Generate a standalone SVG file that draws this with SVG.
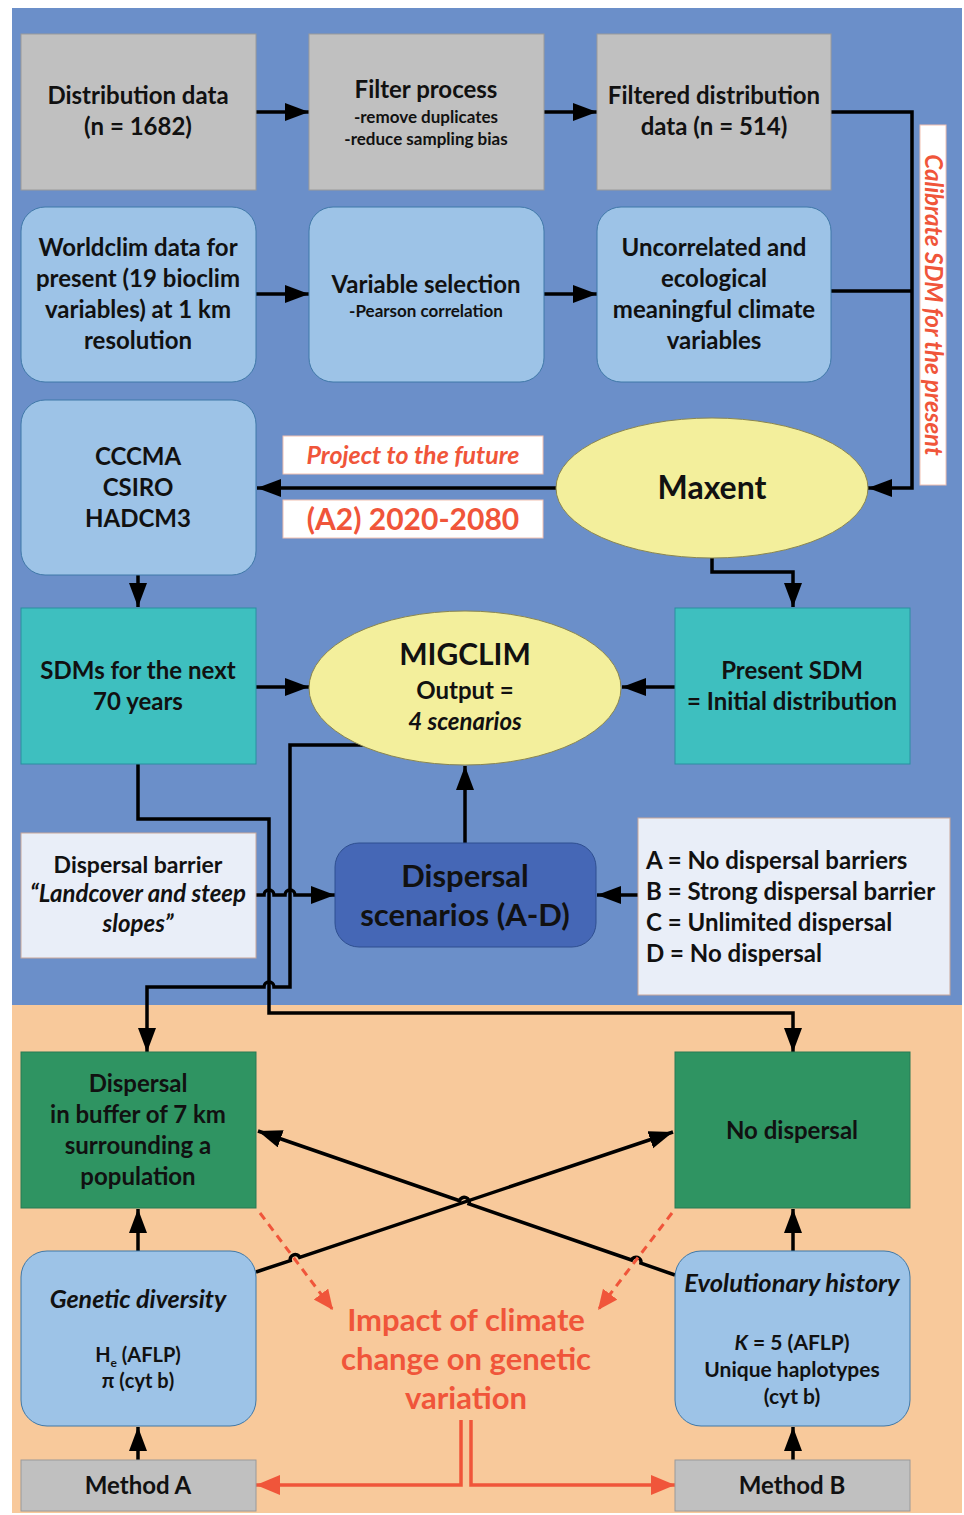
<svg xmlns="http://www.w3.org/2000/svg" width="964" height="1515" viewBox="0 0 964 1515">
  <style>
    text { font-family: Lato, "Open Sans", "Liberation Sans", sans-serif; font-weight: bold; fill: #111; text-anchor: middle; }
    .t22 { font-size: 23px; }
    .t24 { font-size: 24px; }
    .sm { font-size: 17px; }
    .it { font-style: italic; }
    .red { fill: #f0553a; }
    .gray { fill: #c0c0c0; stroke: #9a9a9a; stroke-width: 1; }
    .lblue { fill: #9dc3e7; stroke: #3f78a8; stroke-width: 1; }
    .teal { fill: #3ebfbf; stroke: #2a8fa0; stroke-width: 1; }
    .green { fill: #2f9462; stroke: #287a55; stroke-width: 1; }
    .pale { fill: #e9eef8; stroke: #c9a79a; stroke-width: 1; }
    .dblue { fill: #4567b6; stroke: #2f4f90; stroke-width: 1; }
    .yel { fill: #f3ef9c; stroke: #8a8650; stroke-width: 1; }
    .wlab { fill: #ffffff; stroke: #f2c0b0; stroke-width: 1; }
    .conn { fill: none; stroke: #000; stroke-width: 3.5; }
    .rconn { fill: none; stroke: #f0553a; stroke-width: 3.5; }
    .rdash { fill: none; stroke: #f0553a; stroke-width: 3; stroke-dasharray: 8 6; }
  </style>
  <defs>
    <marker id="ah" markerUnits="userSpaceOnUse" markerWidth="26" markerHeight="20" refX="24" refY="9" orient="auto">
      <path d="M0,0 L24,9 L0,18 z" fill="#000"/>
    </marker>
    <marker id="ahr" markerUnits="userSpaceOnUse" markerWidth="26" markerHeight="22" refX="24" refY="10" orient="auto">
      <path d="M0,0 L24,10 L0,20 z" fill="#f0553a"/>
    </marker>
    <marker id="ahrs" markerUnits="userSpaceOnUse" markerWidth="24" markerHeight="20" refX="20" refY="9" orient="auto">
      <path d="M0,0 L20,9 L0,18 z" fill="#f0553a"/>
    </marker>
  </defs>

  <!-- background panels -->
  <rect x="0" y="0" width="964" height="1515" fill="#ffffff"/>
  <rect x="12" y="8" width="950" height="997" fill="#6b8fc9"/>
  <rect x="12" y="1005" width="950" height="508" fill="#f8c99b"/>

  <!-- connectors -->
  <g id="connectors">
    <path class="conn" d="M256,112 H309" marker-end="url(#ah)"/>
    <path class="conn" d="M544,112 H597" marker-end="url(#ah)"/>
    <path class="conn" d="M831,112 H912 V488 H868" marker-end="url(#ah)"/>
    <path class="conn" d="M831,291 H912"/>
    <path class="conn" d="M256,294 H309" marker-end="url(#ah)"/>
    <path class="conn" d="M544,294 H597" marker-end="url(#ah)"/>
    <path class="conn" d="M556,488 H257" marker-end="url(#ah)"/>
    <path class="conn" d="M138,575 V607" marker-end="url(#ah)"/>
    <path class="conn" d="M712,558 V572 H793 V607" marker-end="url(#ah)"/>
    <path class="conn" d="M256,687 H309" marker-end="url(#ah)"/>
    <path class="conn" d="M675,687 H622" marker-end="url(#ah)"/>
    <path class="conn" d="M465,843 V766" marker-end="url(#ah)"/>
    <path class="conn" d="M638,895 H597" marker-end="url(#ah)"/>
    <path class="conn" d="M256,895 H264 A5,5 0 0 1 274,895 H285 A5,5 0 0 1 295,895 H335" marker-end="url(#ah)"/>
    <path class="conn" d="M376,745 H290 V987 H274 A5,5 0 0 0 264,987 H147 V1052" marker-end="url(#ah)"/>
    <path class="conn" d="M138,764 V819 H269 V1013 H793 V1052" marker-end="url(#ah)"/>
    <path class="conn" d="M256,1272 L290.3,1260.6 A5,5 0 0 1 299.7,1257.4 L673,1132" marker-end="url(#ah)"/>
    <path class="conn" d="M675,1275 L640.9,1263.2 A5,5 0 0 0 631.5,1260 L469,1204 A5,5 0 0 0 459.5,1200.7 L258,1131" marker-end="url(#ah)"/>
    <path class="rdash" d="M260,1213 L333,1310" marker-end="url(#ahrs)"/>
    <path class="rdash" d="M672,1213 L598,1310" marker-end="url(#ahrs)"/>
    <path class="conn" d="M138,1251 V1209" marker-end="url(#ah)"/>
    <path class="conn" d="M793,1251 V1209" marker-end="url(#ah)"/>
    <path class="conn" d="M138,1460 V1427" marker-end="url(#ah)"/>
    <path class="conn" d="M793,1460 V1427" marker-end="url(#ah)"/>
    <path class="rconn" d="M461,1420 V1485 H256" marker-end="url(#ahr)"/>
    <path class="rconn" d="M471,1420 V1485 H675" marker-end="url(#ahr)"/>
  </g>

  <!-- edge labels -->
  <g id="label-calibrate">
    <rect class="wlab" x="920" y="125" width="26" height="360"/>
    <text class="it red" font-size="24" transform="translate(925,305) rotate(90)">Calibrate SDM for the present</text>
  </g>
  <g id="label-project">
    <rect class="wlab" x="283" y="436" width="260" height="38"/>
    <text class="it red" font-size="25" x="413" y="464">Project to the future</text>
  </g>
  <g id="label-a2">
    <rect class="wlab" x="283" y="500" width="260" height="38"/>
    <text class="red" font-size="30" x="413" y="530">(A2) 2020-2080</text>
  </g>

  <!-- row 1 -->
  <g id="distribution-data">
    <rect class="gray" x="21" y="34" width="235" height="156"/>
    <text class="t24" x="138" y="104">Distribution data</text>
    <text class="t24" x="138" y="135">(n = 1682)</text>
  </g>
  <g id="filter-process">
    <rect class="gray" x="309" y="34" width="235" height="156"/>
    <text class="t24" x="426" y="98">Filter process</text>
    <text class="sm" x="426" y="123">-remove duplicates</text>
    <text class="sm" x="426" y="145">-reduce sampling bias</text>
  </g>
  <g id="filtered-data">
    <rect class="gray" x="597" y="34" width="234" height="156"/>
    <text class="t24" x="714" y="104">Filtered distribution</text>
    <text class="t24" x="714" y="135">data (n = 514)</text>
  </g>

  <!-- row 2 -->
  <g id="worldclim">
    <rect class="lblue" x="21" y="207" width="235" height="175" rx="24"/>
    <text class="t24" x="138" y="256">Worldclim data for</text>
    <text class="t24" x="138" y="287">present (19 bioclim</text>
    <text class="t24" x="138" y="318">variables) at 1 km</text>
    <text class="t24" x="138" y="349">resolution</text>
  </g>
  <g id="variable-selection">
    <rect class="lblue" x="309" y="207" width="235" height="175" rx="24"/>
    <text class="t24" x="426" y="293">Variable selection</text>
    <text class="sm" x="426" y="317">-Pearson correlation</text>
  </g>
  <g id="uncorrelated">
    <rect class="lblue" x="597" y="207" width="234" height="175" rx="24"/>
    <text class="t24" x="714" y="256">Uncorrelated and</text>
    <text class="t24" x="714" y="287">ecological</text>
    <text class="t24" x="714" y="318">meaningful climate</text>
    <text class="t24" x="714" y="349">variables</text>
  </g>

  <!-- row 3 -->
  <g id="gcm">
    <rect class="lblue" x="21" y="400" width="235" height="175" rx="24"/>
    <text class="t24" x="138" y="465">CCCMA</text>
    <text class="t24" x="138" y="496">CSIRO</text>
    <text class="t24" x="138" y="527">HADCM3</text>
  </g>
  <g id="maxent">
    <ellipse class="yel" cx="712" cy="488" rx="156" ry="70"/>
    <text font-size="32" x="712" y="499">Maxent</text>
  </g>

  <!-- row 4 -->
  <g id="sdms-future">
    <rect class="teal" x="21" y="608" width="235" height="156"/>
    <text class="t24" x="138" y="679">SDMs for the next</text>
    <text class="t24" x="138" y="710">70 years</text>
  </g>
  <g id="migclim">
    <ellipse class="yel" cx="465" cy="688" rx="156" ry="77"/>
    <text font-size="30" x="465" y="665">MIGCLIM</text>
    <text class="t24" x="465" y="699">Output =</text>
    <text class="t24 it" x="465" y="730">4 scenarios</text>
  </g>
  <g id="present-sdm">
    <rect class="teal" x="675" y="608" width="235" height="156"/>
    <text class="t24" x="792" y="679">Present SDM</text>
    <text class="t24" x="792" y="710">= Initial distribution</text>
  </g>

  <!-- row 5 -->
  <g id="dispersal-barrier">
    <rect class="pale" x="21" y="833" width="235" height="125"/>
    <text class="t22" x="138" y="873">Dispersal barrier</text>
    <text class="it" font-size="24" x="138" y="902">“Landcover and steep</text>
    <text class="it" font-size="24" x="138" y="932">slopes”</text>
  </g>
  <g id="dispersal-scenarios">
    <rect class="dblue" x="335" y="843" width="261" height="104" rx="24"/>
    <text font-size="31" x="465" y="887">Dispersal</text>
    <text font-size="31" x="465" y="926">scenarios (A-D)</text>
  </g>
  <g id="scenario-key">
    <rect class="pale" x="638" y="818" width="312" height="177"/>
    <text font-size="24" x="646" y="869" style="text-anchor:start">A = No dispersal barriers</text>
    <text font-size="24" x="646" y="900" style="text-anchor:start">B = Strong dispersal barrier</text>
    <text font-size="24" x="646" y="931" style="text-anchor:start">C = Unlimited dispersal</text>
    <text font-size="24" x="646" y="962" style="text-anchor:start">D = No dispersal</text>
  </g>

  <!-- row 6 -->
  <g id="dispersal-buffer">
    <rect class="green" x="21" y="1052" width="235" height="156"/>
    <text class="t24" x="138" y="1092">Dispersal</text>
    <text class="t24" x="138" y="1123">in buffer of 7 km</text>
    <text class="t24" x="138" y="1154">surrounding a</text>
    <text class="t24" x="138" y="1185">population</text>
  </g>
  <g id="no-dispersal">
    <rect class="green" x="675" y="1052" width="235" height="156"/>
    <text class="t24" x="792" y="1139">No dispersal</text>
  </g>

  <!-- row 7 -->
  <g id="genetic-diversity">
    <rect class="lblue" x="21" y="1251" width="235" height="175" rx="26"/>
    <text class="it" font-size="25" x="138" y="1308">Genetic diversity</text>
    <text font-size="20" x="138" y="1362">H<tspan font-size="12" dy="5">e</tspan><tspan dy="-5"> (AFLP)</tspan></text>
    <text font-size="20" x="138" y="1388">π (cyt b)</text>
  </g>
  <g id="impact">
    <text class="red" font-size="31" x="466" y="1331">Impact of climate</text>
    <text class="red" font-size="31" x="466" y="1370">change on genetic</text>
    <text class="red" font-size="31" x="466" y="1409">variation</text>
  </g>
  <g id="evolutionary-history">
    <rect class="lblue" x="675" y="1251" width="235" height="175" rx="26"/>
    <text class="it" font-size="25.5" x="792" y="1292">Evolutionary history</text>
    <text font-size="21" x="792" y="1350"><tspan font-style="italic">K</tspan> = 5 (AFLP)</text>
    <text font-size="21" x="792" y="1377">Unique haplotypes</text>
    <text font-size="21" x="792" y="1404">(cyt b)</text>
  </g>

  <!-- row 8 -->
  <g id="method-a">
    <rect class="gray" x="21" y="1460" width="235" height="51"/>
    <text class="t24" x="138" y="1494">Method A</text>
  </g>
  <g id="method-b">
    <rect class="gray" x="675" y="1460" width="235" height="51"/>
    <text class="t24" x="792" y="1494">Method B</text>
  </g>
</svg>
